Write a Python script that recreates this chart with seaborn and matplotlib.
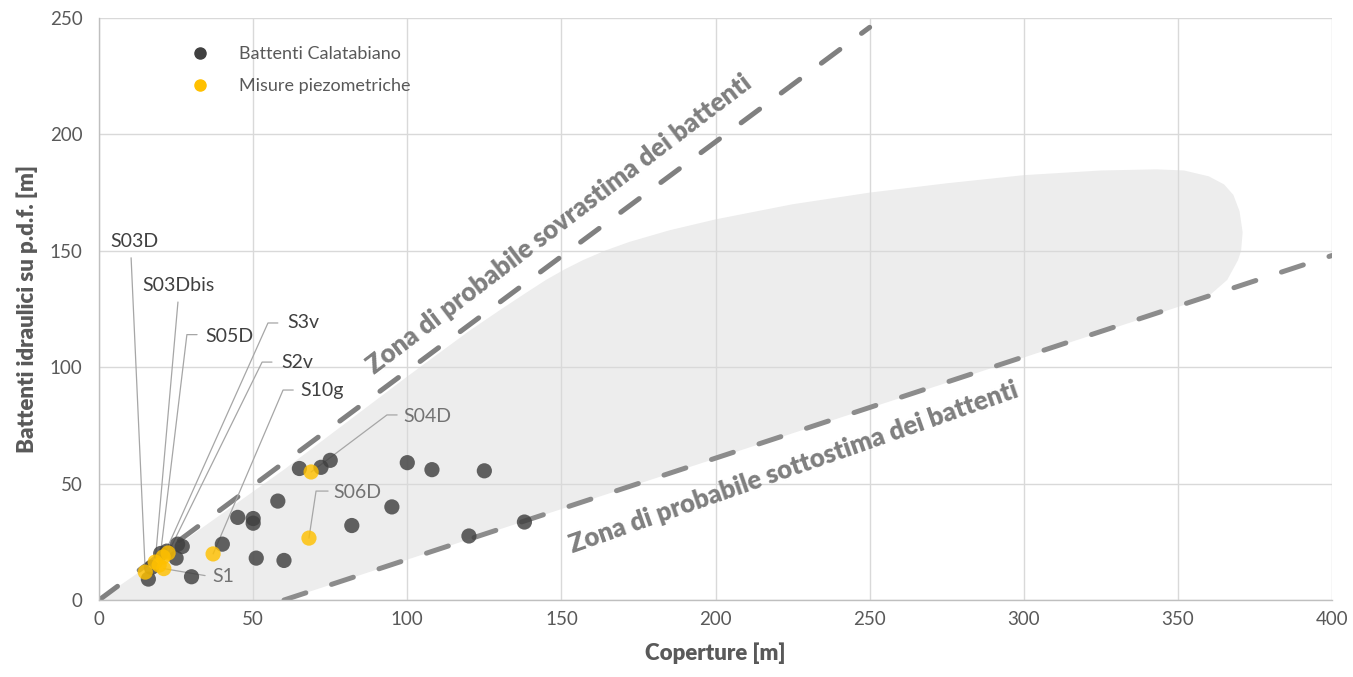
import matplotlib
matplotlib.use("Agg")
import pandas as pd
import matplotlib.pyplot as plt
import seaborn as sns
from matplotlib.lines import Line2D

# Battenti Calatabiano
calat_x = [16, 17, 20, 22, 25, 25.5, 27, 30, 40, 45, 50, 50, 51, 60, 58, 65, 72, 75,
           82, 95, 100, 108, 125, 120, 138]
calat_y = [9, 14, 20, 21, 18, 24, 23, 10, 24, 35.5, 35, 33, 18, 17, 42.5, 56.5, 57, 60,
           32, 40, 59, 56, 55.5, 27.5, 33.5]

# Misure piezometriche
piezo_names = ["S03D", "S03Dbis", "S05D", "S3v", "S2v", "S10g", "S04D", "S06D", "S1"]
piezo_x = [15, 18.2, 19.5, 20.8, 22.4, 37, 68.8, 68.1, 21]
piezo_y = [12, 16.3, 15, 18.5, 20.2, 19.8, 55, 26.6, 13.5]

# inviluppo (zona grigia)
env_x = [0, 26, 60, 100, 120, 130, 138, 145, 151, 157, 164, 172, 185, 200, 225, 250, 275,
         300, 325, 343, 352, 360, 365, 368, 370, 371, 370.5, 369.5, 366, 359.5, 60, 0]
env_y = [0, 24, 56, 96, 115.5, 124.5, 131.5, 137.5, 142, 146, 150, 153.8, 158.8, 163.5,
         170, 175, 179, 182.5, 184.5, 185, 184.5, 182, 178.5, 174, 167, 158, 150, 146,
         137.5, 130, 0, 0]

# rette di riferimento
upper_x = [0, 250]
upper_y = [0, 246]
lower_x = [60, 400]
lower_y = [0, 148]

# posizione etichette: testo (x, y) e gomito della linea guida
label_pos = {
    "S03D": (3.6, 153.8, [(10.4, 147)]),
    "S03Dbis": (14, 135.3, [(25.6, 128)]),
    "S05D": (34.4, 113.4, [(28.5, 114), (31.8, 114)]),
    "S3v": (61, 119, [(54.8, 119), (58, 119)]),
    "S2v": (59, 102.2, [(52.9, 102.2), (56.1, 102.2)]),
    "S10g": (65.2, 90.2, [(59.7, 90.2), (63, 90.2)]),
    "S04D": (98.6, 79, [(93.4, 79.5), (96.7, 79.5)]),
    "S06D": (75.9, 46.4, [(70.4, 46.8), (74.3, 46.8)]),
    "S1": (36.7, 9.9, [(34.4, 10.5)]),
}

sns.set_theme(style="white")
plt.rcParams["font.family"] = ["Lato", "DejaVu Sans"]

fig = plt.figure(figsize=(13.53, 6.77), dpi=100)
ax = fig.add_axes([0.0732, 0.1137, 0.9113, 0.8597])

ax.fill(env_x, env_y, color="#ededed", zorder=0.2, lw=0)

ax.plot(upper_x, upper_y, color="#808080", lw=3.6, dashes=(4.6, 5.4),
        dash_capstyle="round", zorder=1)
ax.plot(lower_x, lower_y, color="#8c8c8c", lw=3.6, dashes=(4.6, 5.4),
        dash_capstyle="round", zorder=1)

df = pd.concat([
    pd.DataFrame({"x": calat_x, "y": calat_y, "serie": "Battenti Calatabiano"}),
    pd.DataFrame({"x": piezo_x, "y": piezo_y, "serie": "Misure piezometriche"}),
])
sns.scatterplot(data=df, x="x", y="y", hue="serie",
                palette={"Battenti Calatabiano": "#404040", "Misure piezometriche": "#FFC000"},
                s=120, alpha=0.82, edgecolor="none", legend=False, ax=ax, zorder=3)

# etichette con linee guida
for name, px, py in zip(piezo_names, piezo_x, piezo_y):
    tx, ty, elbow = label_pos[name]
    xs = [px] + [e[0] for e in elbow]
    ys = [py] + [e[1] for e in elbow]
    ax.plot(xs, ys, color="#a6a6a6", lw=0.9, zorder=2)
    col = "#737373" if name in ("S04D", "S06D", "S1") else "#404040"
    ax.text(tx, ty, name, color=col, fontsize=14, ha="left", va="center", zorder=4)

ax.text(149.2, 161.5, "Zona di probabile sovrastima dei battenti", rotation=37.3,
        rotation_mode="anchor", ha="center", va="center", fontsize=18.5,
        fontweight="heavy", color="#7f7f7f")
ax.text(225.2, 57.1, "Zona di probabile sottostima dei battenti", rotation=19.3,
        rotation_mode="anchor", ha="center", va="center", fontsize=18.5,
        fontweight="heavy", color="#7f7f7f")

ax.set_xlim(0, 400)
ax.set_ylim(0, 250)
ax.set_xticks(range(0, 401, 50))
ax.set_yticks(range(0, 251, 50))
ax.set_axisbelow(True)
ax.grid(True, color="#d9d9d9", lw=1)
ax.tick_params(length=0, labelsize=13.5, labelcolor="#595959")
ax.tick_params(axis="y", pad=12)
ax.tick_params(axis="x", pad=8)
for s in ["top", "right"]:
    ax.spines[s].set_visible(False)
for s in ["left", "bottom"]:
    ax.spines[s].set_color("#bfbfbf")
    ax.spines[s].set_linewidth(1)

ax.set_xlabel("Coperture [m]", fontsize=16, fontweight="heavy", color="#595959", labelpad=10)
ax.set_ylabel("Battenti idraulici su p.d.f. [m]", fontsize=16, fontweight="heavy",
              color="#595959", labelpad=8)

handles = [
    Line2D([], [], ls="none", marker="o", markersize=8, color="#404040", label="Battenti Calatabiano"),
    Line2D([], [], ls="none", marker="o", markersize=8, color="#FFC000", label="Misure piezometriche"),
]
leg = ax.legend(handles=handles, loc="upper left", bbox_to_anchor=(0.058, 0.98), frameon=False,
                fontsize=13, labelspacing=0.9, handletextpad=1.4, handlelength=1.5)
for t in leg.get_texts():
    t.set_color("#595959")

fig.savefig("out.png", dpi=100)
